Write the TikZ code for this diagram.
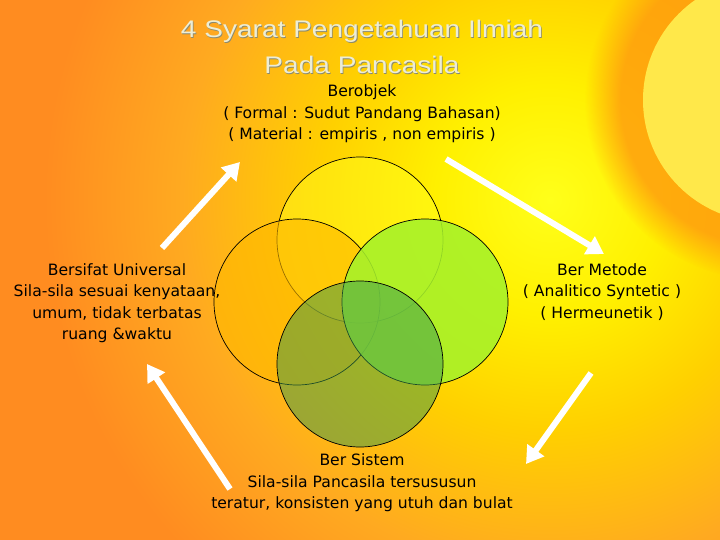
\documentclass[tikz,border=0pt]{standalone}
\usepackage{fontspec}
\setmainfont{DejaVu Sans}
\newfontfamily\titlefont{Liberation Sans}
\usetikzlibrary{arrows.meta,fadings}
\definecolor{bgA}{HTML}{FFFF1A}
\definecolor{bgB}{HTML}{FFF000}
\definecolor{bgC}{HTML}{FFD000}
\definecolor{bgD}{HTML}{FFAA20}
\definecolor{bgE}{HTML}{FF8C20}
\definecolor{sunC}{HTML}{FFE84A}
\definecolor{haloC}{HTML}{FF9A10}
\definecolor{cTop}{HTML}{FFFF20}
\definecolor{cLeft}{HTML}{FFB800}
\definecolor{cRight}{HTML}{A6F22A}
\definecolor{cBottom}{HTML}{3A9A50}
\definecolor{titleC}{HTML}{EDEDD5}
\definecolor{titleS}{HTML}{8A8A70}
\pgfdeclareradialshading{bgshade}{\pgfpoint{0bp}{0bp}}{color(0bp)=(bgA); color(5bp)=(bgB); color(10bp)=(bgC); color(16bp)=(bgD); color(22bp)=(bgE); color(50bp)=(bgE)}
\tikzset{
  venn/.style={circle, draw=black, line width=0.7pt, minimum size=166pt, inner sep=0pt},
  lbl/.style={align=center, text=black, font=\fontsize{15.6}{21.5}\selectfont, inner sep=0pt},
  warrow/.style={draw=white, line width=6pt, -{Triangle[width=20pt,length=17pt]}},
  ttl/.style={align=center, font=\titlefont\fontsize{24}{36}\selectfont, inner sep=0pt, xscale=1.17}
}
\begin{document}
\begin{tikzpicture}[x=1pt,y=-1pt]
\useasboundingbox (0,0) rectangle (720,540);
\begin{scope}
\clip (0,0) rectangle (720,540);
\shade[shading=bgshade] (-25,-375) rectangle (1125,775);
\fill[haloC, path fading=circle with fuzzy edge 20 percent, opacity=0.8] (765,100) circle (180pt);
\fill[sunC] (765,100) circle (122pt);
\end{scope}
% title
\node[ttl, text=titleS] at (362.8,47.8) {4 Syarat Pengetahuan Ilmiah\\Pada Pancasila};
\node[ttl, text=titleC] (title) at (362,47) {4 Syarat Pengetahuan Ilmiah\\Pada Pancasila};
% circles
\node[venn, fill=cTop, fill opacity=0.45] (ctop) at (360,240) {};
\node[venn, fill=cLeft, fill opacity=0.6] (cleft) at (297,302) {};
\node[venn, fill=cRight, fill opacity=0.88] (cright) at (425,302) {};
\node[venn, fill=cBottom, fill opacity=0.5] (cbottom) at (360,364) {};
% labels
\node[lbl] (ltop) at (362,114) {Berobjek\\( Formal : Sudut Pandang Bahasan)\\( Material : empiris , non empiris )};
\node[lbl] (lleft) at (117,303) {Bersifat Universal\\Sila-sila sesuai kenyataan,\\umum, tidak terbatas\\ruang \&waktu};
\node[lbl] (lright) at (602,292) {Ber Metode\\( Analitico Syntetic )\\( Hermeunetik )};
\node[lbl] (lbottom) at (362,483) {Ber Sistem\\Sila-sila Pancasila tersususun\\teratur, konsisten yang utuh dan bulat};
% arrows
\coordinate (a1s) at (162,248); \coordinate (a1e) at (240,162);
\coordinate (a2s) at (446,159); \coordinate (a2e) at (604,254);
\coordinate (a3s) at (591,373); \coordinate (a3e) at (526,464);
\coordinate (a4s) at (230,489); \coordinate (a4e) at (147,364);
\draw[warrow] (a1s) -- (a1e);
\draw[warrow] (a2s) -- (a2e);
\draw[warrow] (a3s) -- (a3e);
\draw[warrow] (a4s) -- (a4e);
\end{tikzpicture}
\end{document}
